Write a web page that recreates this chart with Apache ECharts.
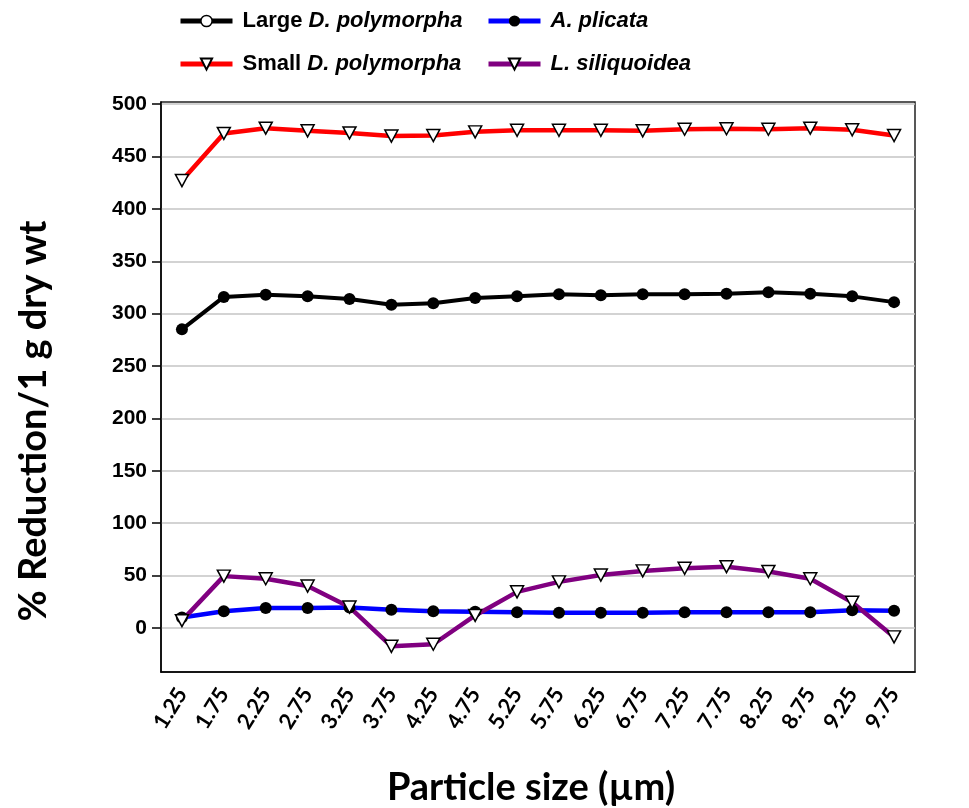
<!DOCTYPE html>
<html>
<head>
<meta charset="utf-8">
<script src="https://cdn.jsdelivr.net/npm/echarts@6/dist/echarts.min.js"></script>
<style>
  html, body { margin: 0; padding: 0; background: #fff; }
  #chart { width: 969px; height: 808px; }
</style>
</head>
<body>
<div id="chart"></div>
<script>
// Particle sizes (x categories)
const categories = ['1.25', '1.75', '2.25', '2.75', '3.25', '3.75', '4.25', '4.75', '5.25',
  '5.75', '6.25', '6.75', '7.25', '7.75', '8.25', '8.75', '9.25', '9.75'];
// % reduction per 1 g dry wt
const largeDp = [285, 316, 318, 316.5, 314, 308.5, 310, 315, 316.5, 318.5, 317.5, 318.5, 318.5, 319, 320.5, 319, 316.5, 311];
const smallDp = [427, 472, 477, 474.5, 472.5, 469.5, 470, 473.5, 475, 475, 475, 474.5, 476, 476.5, 476, 477, 475.5, 470];
const aPlicata = [10, 16, 19, 19, 19.5, 17.5, 16, 15.5, 15, 14.5, 14.5, 14.5, 15, 15, 15, 15, 17, 16.5];
const lSiliquoidea = [7, 49.5, 47, 40, 20, -17.5, -15.5, 12, 34.5, 44, 50.5, 54.5, 57, 58.5, 54, 47, 24.5, -8.5];
// Y tick labels
const yTicks = [0, 50, 100, 150, 200, 250, 300, 350, 400, 450, 500];

const chart = echarts.init(document.getElementById('chart'));

const legendFont = '"Liberation Sans", Arial, sans-serif';
const rich = {
  n: { fontFamily: legendFont, fontSize: 22, fontWeight: 'bold', color: '#000' },
  i: { fontFamily: legendFont, fontSize: 22, fontWeight: 'bold', fontStyle: 'italic', color: '#000' }
};

function makeLegend(name, left, top, itemStyle) {
  const item = { name: name };
  if (itemStyle) item.itemStyle = itemStyle;
  return {
    data: [item],
    left: left,
    top: top,
    padding: 0,
    itemWidth: 52,
    itemHeight: 14,
    lineStyle: { width: 5 },
    selectedMode: false,
    formatter: function (n) {
      if (n === 'Large D. polymorpha') return '{n|Large }{i|D. polymorpha}';
      if (n === 'Small D. polymorpha') return '{n|Small }{i|D. polymorpha}';
      return '{i|' + n + '}';
    },
    textStyle: { padding: [0, 0, 0, 5], rich: rich }
  };
}

const triangle = {
  symbol: 'triangle',
  symbolRotate: 180,
  symbolSize: [13, 12],
  itemStyle: { color: '#fff', borderColor: '#000', borderWidth: 1.5 }
};

const option = {
  animation: false,
  backgroundColor: '#fff',
  legend: [
    makeLegend('Large D. polymorpha', 178, 10, { color: '#fff', borderColor: '#000', borderWidth: 1.5 }),
    makeLegend('A. plicata', 486, 10),
    makeLegend('Small D. polymorpha', 178, 53),
    makeLegend('L. siliquoidea', 486, 53)
  ],
  grid: {
    left: 161,
    right: 54,
    top: 102,
    bottom: 136,
    show: true,
    borderColor: '#222',
    borderWidth: 1.5,
    outerBoundsMode: 'none'
  },
  xAxis: {
    type: 'category',
    data: categories,
    boundaryGap: true,
    name: 'Particle size (µm)',
    nameLocation: 'middle',
    nameGap: 97,
    nameTextStyle: { fontFamily: 'Lato', fontWeight: 'bold', fontSize: 38, color: '#000', padding: [0, 14, 0, 0] },
    axisLine: { onZero: false, lineStyle: { color: '#000', width: 1.5 } },
    axisTick: { alignWithLabel: true, length: 8, lineStyle: { color: '#000', width: 1.5 } },
    axisLabel: { rotate: 58, margin: 18, fontFamily: 'Lato', fontWeight: 'bold', fontSize: 22, color: '#000', interval: 0 },
    splitLine: { show: false }
  },
  yAxis: {
    type: 'value',
    min: -42,
    max: 502,
    name: '% Reduction/1 g dry wt',
    nameLocation: 'middle',
    nameGap: 108,
    nameTextStyle: { fontFamily: 'Lato', fontWeight: 'bold', fontSize: 38, color: '#000', padding: [0, 68, 0, 0] },
    axisLine: { show: true, lineStyle: { color: '#000', width: 1.5 } },
    axisTick: { show: true, length: 9, customValues: yTicks, lineStyle: { color: '#000', width: 1.5 } },
    axisLabel: { customValues: yTicks, margin: 14, fontFamily: '"Liberation Sans", Arial, sans-serif', fontWeight: 'bold', fontSize: 21, color: '#000' },
    splitLine: { show: true, lineStyle: { color: '#c4c4c4', width: 1.5 } }
  },
  series: [
    {
      name: 'Large D. polymorpha',
      type: 'line',
      data: largeDp,
      symbol: 'circle',
      symbolSize: 12,
      lineStyle: { color: '#000', width: 4 },
      itemStyle: { color: '#000' }
    },
    Object.assign({
      name: 'Small D. polymorpha',
      type: 'line',
      data: smallDp,
      lineStyle: { color: '#ff0000', width: 4.5 }
    }, triangle),
    {
      name: 'A. plicata',
      type: 'line',
      data: aPlicata,
      symbol: 'circle',
      symbolSize: 12,
      lineStyle: { color: '#0000ff', width: 4.5 },
      itemStyle: { color: '#000' }
    },
    Object.assign({
      name: 'L. siliquoidea',
      type: 'line',
      data: lSiliquoidea,
      lineStyle: { color: '#800080', width: 4.5 }
    }, triangle)
  ]
};

chart.setOption(option);
</script>
</body>
</html>
